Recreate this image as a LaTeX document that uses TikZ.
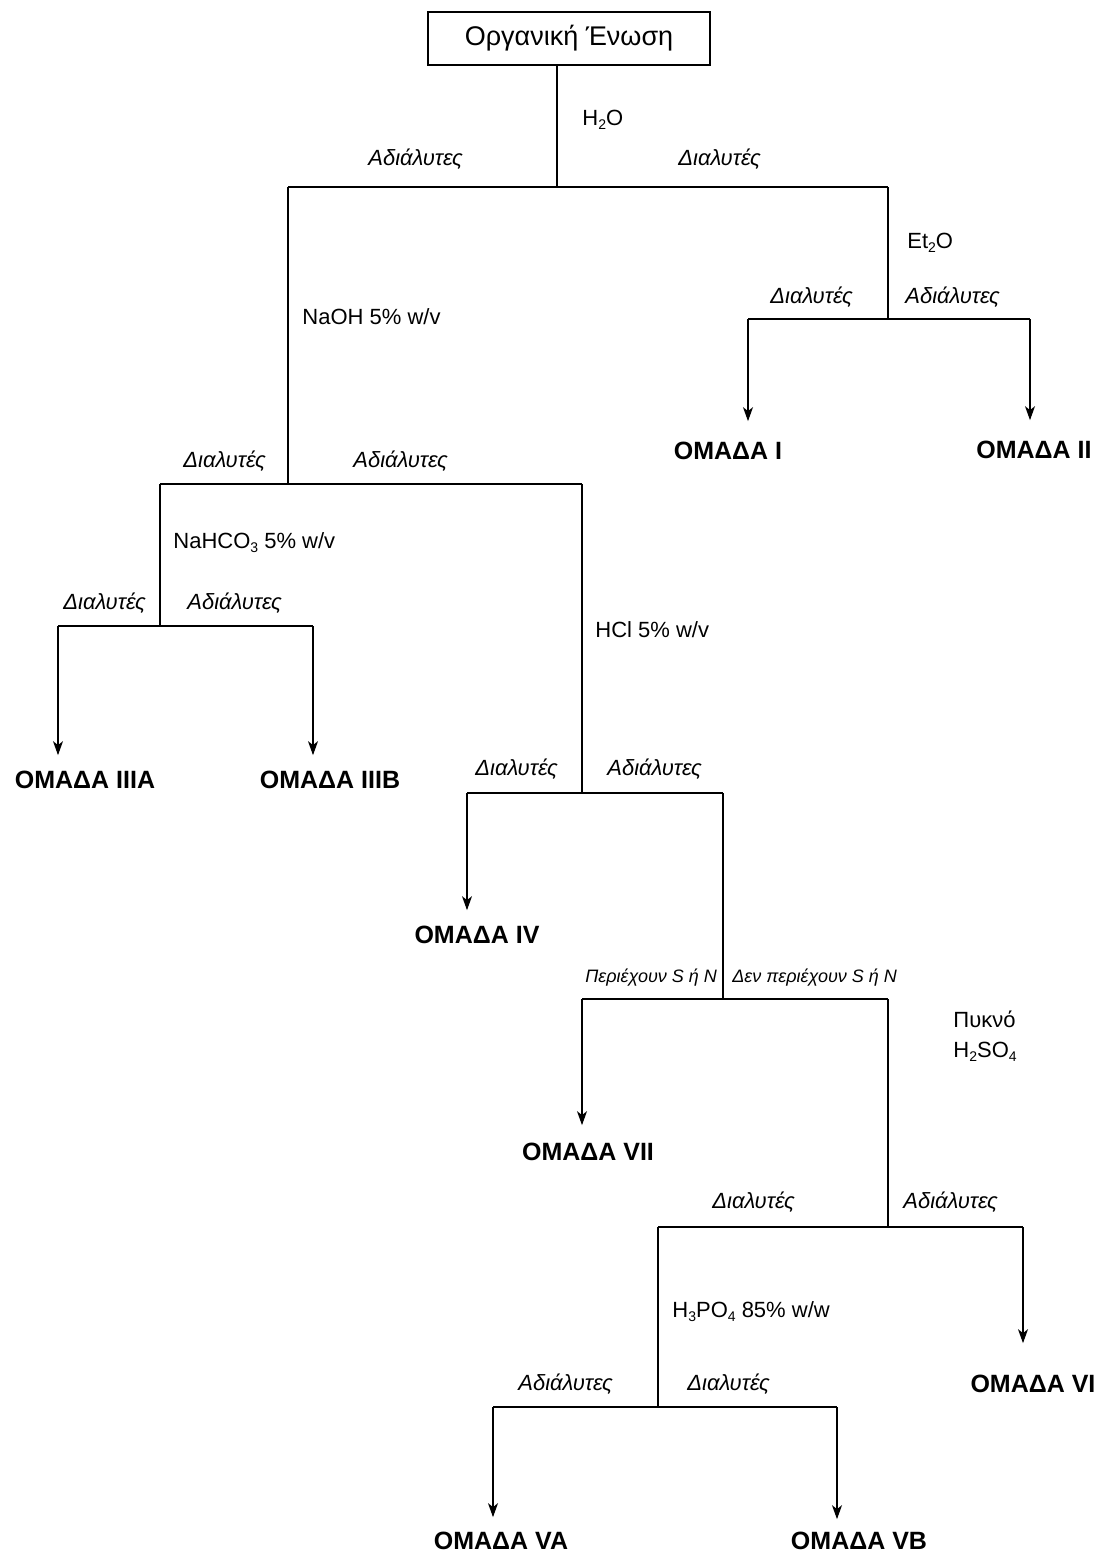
\documentclass[tikz,border=0pt]{standalone}
\usepackage{fontspec}
\setmainfont{Liberation Sans}
\usetikzlibrary{arrows.meta, calc}
\tikzstyle{startstop} = [rectangle, minimum width=141pt, minimum height=26.5pt, text centered, draw=black, line width=0.6pt, font=\fontsize{13.5}{15}\selectfont]
\tikzstyle{group} = [anchor=base, inner sep=0pt, font=\fontsize{12.5}{15}\selectfont\bfseries]
\tikzstyle{reagent} = [anchor=base west, inner sep=0pt, align=left, font=\fontsize{11}{14}\selectfont]
\tikzstyle{answer} = [anchor=base west, inner sep=0pt, font=\fontsize{11}{14}\selectfont\itshape]
\tikzstyle{answersmall} = [anchor=base west, inner sep=0pt, font=\fontsize{9}{11}\selectfont\itshape]
\tikzstyle{line} = [line width=0.6pt]
\tikzstyle{arrow} = [line, -{Stealth[length=7pt, width=5pt, inset=2pt]}, shorten >=7.5pt]
\newcommand{\sub}[1]{\raisebox{-0.35ex}{\scriptsize #1}}

\begin{document}
\begin{tikzpicture}[x=0.5pt, y=-0.5pt]
    \useasboundingbox (0,0) rectangle (1103,1555);

    %ένωση και σημεία διακλάδωσης
    \node (start) [startstop] at (569,38.5) {Οργανική Ένωση};
    \coordinate (j0) at (557,187);  \coordinate (w0) at (288,187);  \coordinate (r0) at (888,187);
    \coordinate (j1) at (888,319);  \coordinate (l1) at (748,319);  \coordinate (r1) at (1030,319);
    \coordinate (j2) at (288,484);  \coordinate (l2) at (160,484);  \coordinate (r2) at (582,484);
    \coordinate (j3) at (160,626);  \coordinate (l3) at (58,626);   \coordinate (r3) at (313,626);
    \coordinate (j4) at (582,793);  \coordinate (l4) at (467,793);  \coordinate (r4) at (723,793);
    \coordinate (j5) at (723,999);  \coordinate (l5) at (582,999);  \coordinate (r5) at (888,999);
    \coordinate (j6) at (888,1227); \coordinate (l6) at (658,1227); \coordinate (r6) at (1023,1227);
    \coordinate (j7) at (658,1407); \coordinate (l7) at (493,1407); \coordinate (r7) at (837,1407);

    %ομάδες
    \node (grpI) [group] at (728,459) {ΟΜΑΔΑ I};
    \node (grpII) [group] at (1034,458) {ΟΜΑΔΑ II};
    \node (grpIIIA) [group] at (85,788) {ΟΜΑΔΑ IIIA};
    \node (grpIIIB) [group] at (330,788) {ΟΜΑΔΑ IIIB};
    \node (grpIV) [group] at (477,943) {ΟΜΑΔΑ IV};
    \node (grpVII) [group] at (588,1160) {ΟΜΑΔΑ VII};
    \node (grpVI) [group] at (1033,1392) {ΟΜΑΔΑ VI};
    \node (grpVA) [group] at (501,1549) {ΟΜΑΔΑ VA};
    \node (grpVB) [group] at (859,1549) {ΟΜΑΔΑ VB};

    %αντιδραστήρια
    \node (h2o) [reagent] at (582,125) {H\sub{2}O};
    \node (et2o) [reagent] at (907,248) {Et\sub{2}O};
    \node (naoh) [reagent] at (302,324) {NaOH 5\% w/v};
    \node (nahco3) [reagent] at (173,548) {NaHCO\sub{3} 5\% w/v};
    \node (hcl) [reagent] at (595,637) {HCl 5\% w/v};
    \node (h2so4) [reagent] at (953,1057) {Πυκνό\\[1pt]H\sub{2}SO\sub{4}};
    \node (h3po4) [reagent] at (672,1317) {H\sub{3}PO\sub{4} 85\% w/w};

    %αποτελέσματα
    \node (a0) [answer] at (368,165) {Αδιάλυτες};
    \node (d0) [answer] at (678,165) {Διαλυτές};
    \node (d1) [answer] at (770,303) {Διαλυτές};
    \node (a1) [answer] at (905,303) {Αδιάλυτες};
    \node (d2) [answer] at (183,467) {Διαλυτές};
    \node (a2) [answer] at (353,467) {Αδιάλυτες};
    \node (d3) [answer] at (63,609) {Διαλυτές};
    \node (a3) [answer] at (187,609) {Αδιάλυτες};
    \node (d4) [answer] at (475,775) {Διαλυτές};
    \node (a4) [answer] at (607,775) {Αδιάλυτες};
    \node (p5) [answersmall] at (585,982) {Περιέχουν S ή N};
    \node (n5) [answersmall] at (732,982) {Δεν περιέχουν S ή N};
    \node (d6) [answer] at (712,1208) {Διαλυτές};
    \node (a6) [answer] at (903,1208) {Αδιάλυτες};
    \node (a7) [answer] at (518,1390) {Αδιάλυτες};
    \node (d7) [answer] at (687,1390) {Διαλυτές};

    %γραμμές
    \draw [line] (j0 |- start.south) -- (j0);
    \draw [line] (w0) -- (r0);
    \draw [line] (r0) -- (j1);
    \draw [line] (l1) -- (r1);
    \draw [arrow, shorten >=10pt] (l1) -- (l1 |- grpI.north);
    \draw [arrow, shorten >=10pt] (r1) -- (r1 |- grpII.north);
    \draw [line] (w0) -- (j2);
    \draw [line] (l2) -- (r2);
    \draw [line] (l2) -- (j3);
    \draw [line] (l3) -- (r3);
    \draw [arrow] (l3) -- (l3 |- grpIIIA.north);
    \draw [arrow] (r3) -- (r3 |- grpIIIB.north);
    \draw [line] (r2) -- (j4);
    \draw [line] (l4) -- (r4);
    \draw [arrow] (l4) -- (l4 |- grpIV.north);
    \draw [line] (r4) -- (j5);
    \draw [line] (l5) -- (r5);
    \draw [arrow, shorten >=8.5pt] (l5) -- (l5 |- grpVII.north);
    \draw [line] (r5) -- (j6);
    \draw [line] (l6) -- (r6);
    \draw [arrow, shorten >=15.5pt] (r6) -- (r6 |- grpVI.north);
    \draw [line] (l6) -- (j7);
    \draw [line] (l7) -- (r7);
    \draw [arrow, shorten >=7pt] (l7) -- (l7 |- grpVA.north);
    \draw [arrow, shorten >=6pt] (r7) -- (r7 |- grpVB.north);
\end{tikzpicture}
\end{document}
